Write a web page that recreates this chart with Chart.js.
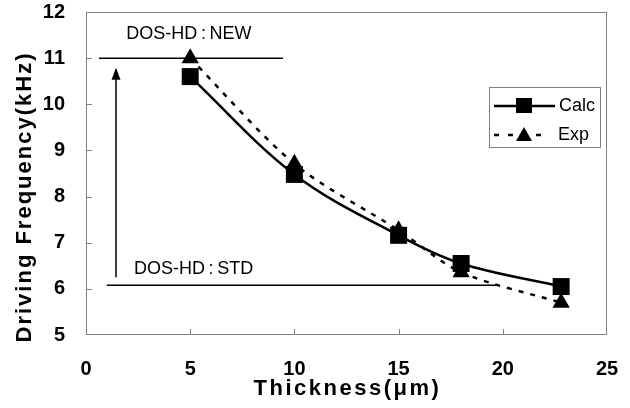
<!DOCTYPE html>
<html><head><meta charset="utf-8">
<script src="https://cdn.jsdelivr.net/npm/chart.js@4.4.0/dist/chart.umd.min.js"></script>
<style>html,body{margin:0;padding:0;background:#fff}#wrap{width:630px;height:408px}</style>
</head><body><div id="wrap"><canvas id="c" width="630" height="408"></canvas></div>
<script>
// ---- data ----
const thickness = [5, 10, 15, 18, 22.8];
const calcFreq = [10.6, 8.48, 7.16, 6.55, 6.05];
const expFreq = [11.0, 8.71, 7.27, 6.36, 5.7];
const seriesNames = ['Calc', 'Exp'];
const xTicks = [0, 5, 10, 15, 20, 25];
const yTicks = [5, 6, 7, 8, 9, 10, 11, 12];
const xTitle = 'Thickness(μm)';
const yTitle = 'Driving Frequency(kHz)';
const newLineX = [0.62, 9.45];
const newLineY = [11.0, 11.0];
const stdLineX = [1.0, 19.7];
const stdLineY = [6.08, 6.08];
const arrowX = [1.44, 1.44];
const arrowY = [6.25, 10.75];
const levelLabels = ['DOS-HD\u2009:\u2009NEW', 'DOS-HD\u2009:\u2009STD'];
const levelLabelX = [4.94, 5.16];
const levelLabelY = [11.52, 6.42];

const FONT = '"Liberation Sans", Arial, sans-serif';
const pts = (xs, ys) => xs.map((x, i) => ({x, y: ys[i]}));

const decor = {
  id: 'decor',
  beforeDatasetsDraw(chart) {
    const {ctx, chartArea: a, scales: {x, y}} = chart;
    ctx.save();
    ctx.strokeStyle = '#808080';
    ctx.lineWidth = 1;
    ctx.strokeRect(a.left + 0.5, a.top + 0.5, a.right - a.left - 1, a.bottom - a.top - 1);
    ctx.beginPath();
    xTicks.slice(1, -1).forEach(v => {
      const px = Math.round(x.getPixelForValue(v)) + 0.5;
      ctx.moveTo(px, a.bottom); ctx.lineTo(px, a.bottom - 6);
    });
    yTicks.slice(1, -1).forEach(v => {
      const py = Math.round(y.getPixelForValue(v)) + 0.5;
      ctx.moveTo(a.left, py); ctx.lineTo(a.left + 6, py);
    });
    ctx.stroke();
    // level labels
    ctx.fillStyle = '#000';
    ctx.font = '18px ' + FONT;
    ctx.textAlign = 'center';
    ctx.textBaseline = 'middle';
    levelLabels.forEach((t, i) => {
      ctx.fillText(t, x.getPixelForValue(levelLabelX[i]), y.getPixelForValue(levelLabelY[i]));
    });
    // arrow head
    const ax = x.getPixelForValue(arrowX[1]);
    const ay = y.getPixelForValue(arrowY[1]);
    ctx.beginPath();
    ctx.moveTo(ax, ay - 2);
    ctx.lineTo(ax - 4.5, ay + 10);
    ctx.lineTo(ax + 4.5, ay + 10);
    ctx.closePath();
    ctx.fill();
    // axis titles
    ctx.font = 'bold 22px ' + FONT;
    ctx.letterSpacing = '2.5px';
    ctx.fillText(xTitle, (a.left + a.right) / 2 + 1, 389);
    ctx.save();
    ctx.translate(25, 197);
    ctx.rotate(-Math.PI / 2);
    ctx.letterSpacing = '2px';
    ctx.fillText(yTitle, 0, 0);
    ctx.restore();
    ctx.restore();
  },
  afterDraw(chart) {
    const {ctx} = chart;
    ctx.save();
    // legend box
    ctx.fillStyle = '#fff';
    ctx.fillRect(489, 87, 111, 60);
    ctx.strokeStyle = '#808080';
    ctx.lineWidth = 1;
    ctx.strokeRect(489.5, 87.5, 111, 60);
    ctx.strokeStyle = '#000';
    ctx.fillStyle = '#000';
    ctx.lineWidth = 2.5;
    // Calc row
    ctx.beginPath(); ctx.moveTo(494, 106); ctx.lineTo(555, 106); ctx.stroke();
    ctx.fillRect(516, 98, 16, 15);
    // Exp row
    ctx.setLineDash([5, 9]);
    ctx.beginPath(); ctx.moveTo(494, 135); ctx.lineTo(548, 135); ctx.stroke();
    ctx.setLineDash([]);
    ctx.beginPath(); ctx.moveTo(524, 127); ctx.lineTo(532, 141); ctx.lineTo(516, 141); ctx.closePath(); ctx.fill();
    ctx.font = '18px ' + FONT;
    ctx.textAlign = 'left';
    ctx.textBaseline = 'middle';
    ctx.fillText(seriesNames[0], 559, 106);
    ctx.fillText(seriesNames[1], 558, 135);
    ctx.restore();
  }
};

const tickFont = {family: FONT, size: 20, weight: 'bold', lineHeight: 1.2};

new Chart(document.getElementById('c'), {
  type: 'scatter',
  data: {
    datasets: [
      {label: seriesNames[0], data: pts(thickness, calcFreq), showLine: true, borderColor: '#000', backgroundColor: '#000',
       borderWidth: 2.5, tension: 0.35, pointStyle: 'rect', pointRadius: 12, pointBorderWidth: 0, clip: false},
      {label: seriesNames[1], data: pts(thickness, expFreq), showLine: true, borderColor: '#000', backgroundColor: '#000',
       borderWidth: 2.5, borderDash: [5, 7], tension: 0.3, pointStyle: 'triangle', pointRadius: 10, pointBorderWidth: 0, clip: false},
      {label: 'new', data: pts(newLineX, newLineY), showLine: true, borderColor: '#000', borderWidth: 1.5, pointRadius: 0},
      {label: 'std', data: pts(stdLineX, stdLineY), showLine: true, borderColor: '#000', borderWidth: 1.5, pointRadius: 0},
      {label: 'arrow', data: pts(arrowX, arrowY), showLine: true, borderColor: '#000', borderWidth: 1.5, pointRadius: 0}
    ]
  },
  options: {
    responsive: false,
    animation: false,
    devicePixelRatio: 1,
    layout: {padding: {top: 11, right: 23, left: 0, bottom: 0}},
    plugins: {legend: {display: false}, tooltip: {enabled: false}},
    scales: {
      x: {
        type: 'linear', min: 0, max: 25,
        afterBuildTicks: s => { s.ticks = xTicks.map(v => ({value: v})); },
        ticks: {font: tickFont, color: '#000', padding: 22},
        grid: {display: false, drawTicks: false},
        border: {display: false},
        afterFit: s => { s.height = 73; s.paddingLeft = 0; s.paddingRight = 0; }
      },
      y: {
        type: 'linear', min: 5, max: 12,
        afterBuildTicks: s => { s.ticks = yTicks.map(v => ({value: v})); },
        ticks: {font: tickFont, color: '#000', padding: 21},
        grid: {display: false, drawTicks: false},
        border: {display: false},
        afterFit: s => { s.width = 86; s.paddingTop = 0; s.paddingBottom = 0; }
      }
    }
  },
  plugins: [decor]
});
</script></body></html>
